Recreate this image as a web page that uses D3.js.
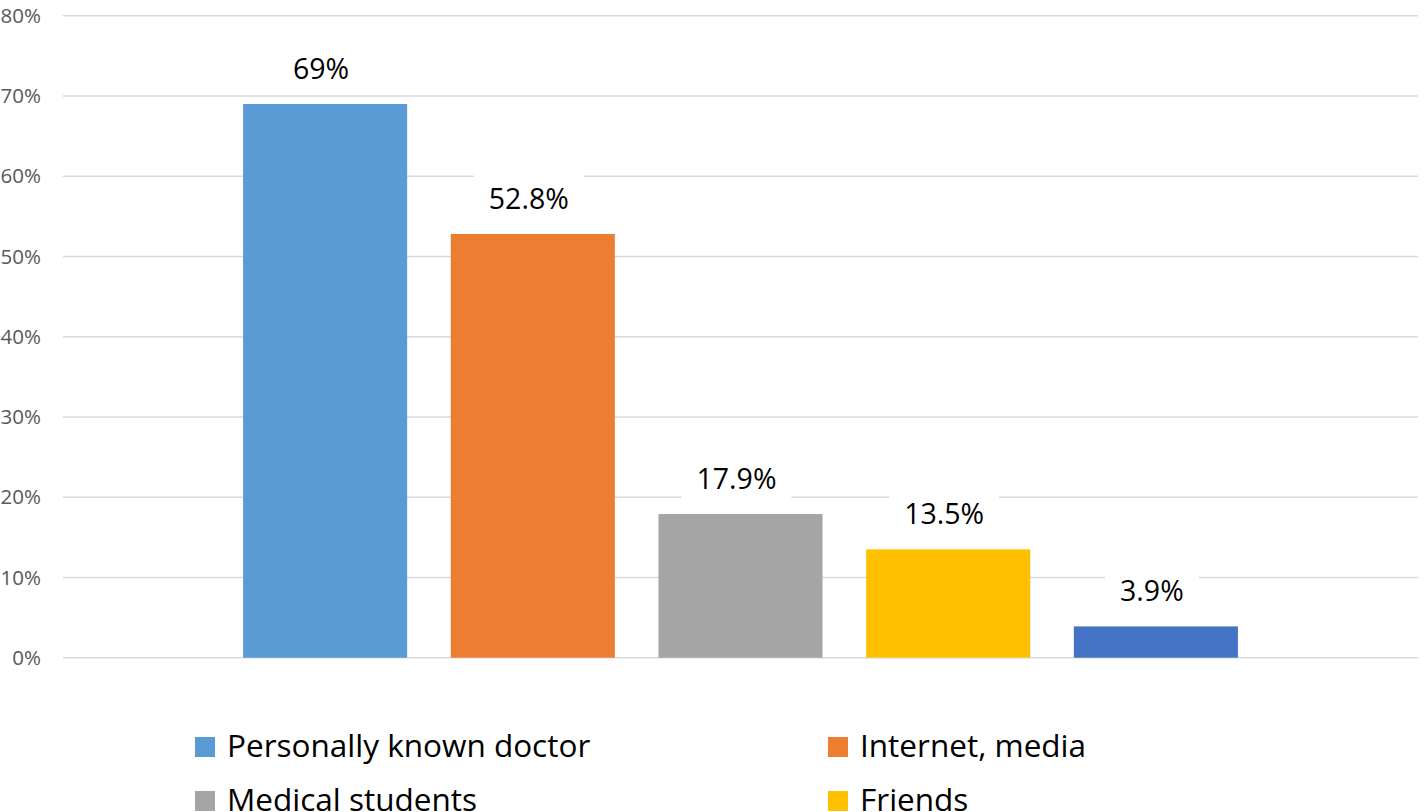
<!DOCTYPE html>
<html>
<head>
<meta charset="utf-8">
<script src="https://cdn.jsdelivr.net/npm/d3@7/dist/d3.min.js"></script>
<style>
  html, body { margin: 0; padding: 0; background: #fff; overflow: hidden; }
  svg { display: block; font-family: "Open Sans", "Noto Sans", sans-serif; }
</style>
</head>
<body>
<svg id="chart" width="1424" height="812"></svg>
<script>
const categories = ["Personally known doctor", "Internet, media", "Medical students", "Friends", "Other"];
const values = [69, 52.8, 17.9, 13.5, 3.9];
const valueLabels = ["69%", "52.8%", "17.9%", "13.5%", "3.9%"];
const colors = ["#5b9bd5", "#ed7d31", "#a5a5a5", "#ffc000", "#4472c4"];
const yTicks = [0, 10, 20, 30, 40, 50, 60, 70, 80];

const svg = d3.select("#chart");
const plotLeft = 63, plotRight = 1418, plotTop = 15.7, plotBottom = 657.7;

const y = d3.scaleLinear().domain([0, 80]).range([plotBottom, plotTop]);
const x = d3.scaleBand().domain(categories).range([plotLeft, plotRight])
  .paddingInner(0.21).paddingOuter(0.867);

// gridlines
svg.append("g").selectAll("line").data(yTicks).join("line")
  .attr("x1", plotLeft).attr("x2", plotRight)
  .attr("y1", d => y(d)).attr("y2", d => y(d))
  .attr("stroke", "#d9d9d9").attr("stroke-width", 1.5);

// y axis labels
const yAxis = d3.axisLeft(y).tickValues(yTicks).tickFormat(d => d + "%").tickSize(0).tickPadding(0);
const yg = svg.append("g").attr("transform", "translate(41,0)").call(yAxis);
yg.select(".domain").remove();
yg.selectAll("text").attr("font-size", 20.5).attr("fill", "#595959")
  .attr("font-family", "'Open Sans', sans-serif");

// bars
svg.append("g").selectAll("rect").data(categories).join("rect")
  .attr("x", d => x(d)).attr("width", x.bandwidth())
  .attr("y", (d, i) => y(values[i]))
  .attr("height", (d, i) => y(0) - y(values[i]))
  .attr("fill", (d, i) => colors[i]);

// value labels with white background
const lg = svg.append("g");
categories.forEach((c, i) => {
  const g = lg.append("g");
  const bg = g.append("rect").attr("fill", "#fff");
  const t = g.append("text")
    .attr("x", x(c) + x.bandwidth() / 2 - 4)
    .attr("y", y(values[i]) - 25)
    .attr("text-anchor", "middle")
    .attr("font-size", 28.5).attr("fill", "#000")
    .text(valueLabels[i]);
  const b = t.node().getBBox();
  bg.attr("x", b.x - 15).attr("y", b.y - 6).attr("width", b.width + 30).attr("height", b.height + 14);
});

// legend (two columns)
const legendCols = [195, 828];
const legendRow0 = 737, rowStep = 54;
const leg = svg.append("g");
categories.forEach((c, i) => {
  const col = i % 2, row = Math.floor(i / 2);
  const ly = legendRow0 + row * rowStep;
  if (ly > 812) return;
  leg.append("rect").attr("x", legendCols[col]).attr("y", ly).attr("width", 20).attr("height", 20).attr("fill", colors[i]);
  leg.append("text").attr("x", legendCols[col] + 32).attr("y", ly + 20)
    .attr("font-size", 31.5).attr("fill", "#000").text(c);
});
</script>
</body>
</html>
